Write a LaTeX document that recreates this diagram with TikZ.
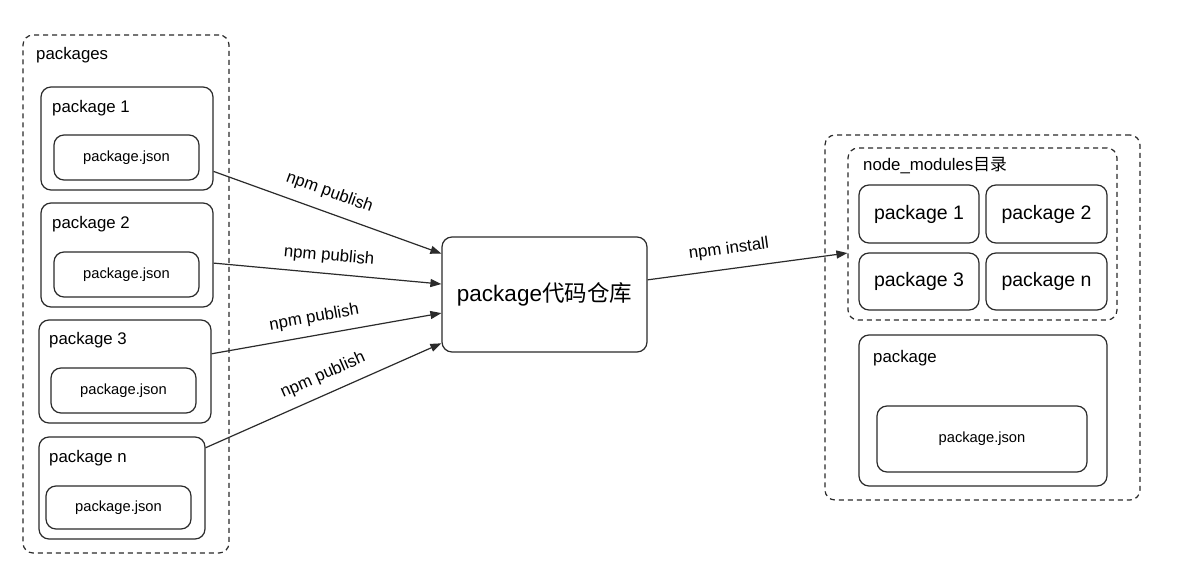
\documentclass[tikz,border=0pt]{standalone}
\usepackage{fontspec}
\setmainfont{Liberation Sans}
\newfontfamily\cjk{Noto Sans CJK SC}
\usetikzlibrary{arrows.meta,calc}
\definecolor{linec}{HTML}{2B2B2B}
\begin{document}
\begin{tikzpicture}[x=1pt,y=-1pt,
  box/.style={draw=linec, line width=1.2pt, rounded corners=10pt, inner sep=0pt},
  dbox/.style={box, dash pattern=on 5pt off 4pt},
  lbl/.style={anchor=west, inner sep=0pt, font=\fontsize{16.8}{20}\selectfont},
  json/.style={font=\fontsize{14.7}{17}\selectfont},
  rsmall/.style={font=\fontsize{19.5}{22}\selectfont},
  arr/.style={draw=linec, line width=1.2pt, -{Triangle[length=11pt,width=8pt]}},
  alab/.style={sloped, inner sep=3pt, font=\fontsize{16.8}{20}\selectfont}
]
\useasboundingbox[fill=white] (0,0) rectangle (1192,564);

% left group
\node[dbox, minimum width=206, minimum height=518] (L) at (126,294) {};
\node[lbl] (Ll) at (36,55) {packages};

\node[box, minimum width=172, minimum height=103] (p1) at (127,138.5) {};
\node[lbl] (p1l) at (52,108) {package 1};
\node[box, json, minimum width=145, minimum height=45] (j1) at (126.5,157.5) {package.json};

\node[box, minimum width=172, minimum height=104] (p2) at (127,255) {};
\node[lbl] (p2l) at (52,224) {package 2};
\node[box, json, minimum width=145, minimum height=45] (j2) at (126.5,274.5) {package.json};

\node[box, minimum width=172, minimum height=103] (p3) at (125,371.5) {};
\node[lbl] (p3l) at (49,340) {package 3};
\node[box, json, minimum width=145, minimum height=45] (j3) at (123.5,390.5) {package.json};

\node[box, minimum width=166, minimum height=102] (pn) at (122,488) {};
\node[lbl] (pnl) at (49,458) {package n};
\node[box, json, minimum width=145, minimum height=43] (jn) at (118.5,507.5) {package.json};

% center
\node[box, minimum width=205, minimum height=115, font=\fontsize{22.5}{26}\selectfont] (C) at (544.5,294.5) {package{\cjk 代码仓库}};

% right group
\node[dbox, minimum width=315, minimum height=365] (R) at (982.5,317.5) {};
\node[dbox, minimum width=269, minimum height=172] (NM) at (982.5,234) {};
\node[lbl] (NMl) at (863,166) {node\_modules{\cjk 目录}};
\node[box, rsmall, minimum width=120, minimum height=58] (r1) at (919,214) {package 1};
\node[box, rsmall, minimum width=121, minimum height=58] (r2) at (1046.5,214) {package 2};
\node[box, rsmall, minimum width=120, minimum height=57] (r3) at (919,281.5) {package 3};
\node[box, rsmall, minimum width=121, minimum height=57] (rn) at (1046.5,281.5) {package n};

\node[box, minimum width=248, minimum height=151] (rp) at (983,410.5) {};
\node[lbl] (rpl) at (873,358) {package};
\node[box, json, minimum width=210, minimum height=66] (rj) at (982,439) {package.json};

% arrows
\draw[arr] ($(p1.north east)!0.816!(p1.south east)$) -- node[alab, above=8pt, pos=0.48] {npm publish} ($(C.north west)!0.148!(C.south west)$);
\draw[arr] ($(p2.north east)!0.577!(p2.south east)$) -- node[alab, above=6pt, pos=0.5] {npm publish} ($(C.north west)!0.41!(C.south west)$);
\draw[arr] ($(p3.north east)!0.33!(p3.south east)$) -- node[alab, above=6pt, pos=0.46] {npm publish} ($(C.north west)!0.66!(C.south west)$);
\draw[arr] ($(pn.north east)!0.11!(pn.south east)$) -- node[alab, above=7pt, pos=0.53] {npm publish} ($(C.north west)!0.92!(C.south west)$);
\draw[arr] ($(C.north east)!0.374!(C.south east)$) -- node[alab, above=8pt, pos=0.42] {npm install} ($(NM.north west)!0.61!(NM.south west)$);
\end{tikzpicture}
\end{document}
